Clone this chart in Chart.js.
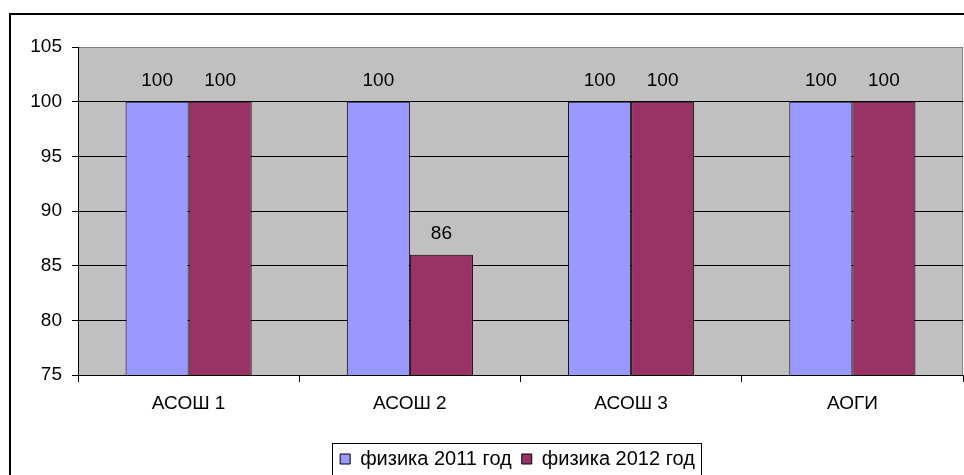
<!DOCTYPE html>
<html>
<head>
<meta charset="utf-8">
<script src="https://cdn.jsdelivr.net/npm/chart.js@4/dist/chart.umd.min.js"></script>
<style>
  html, body { margin: 0; padding: 0; background: #fff; }
  #wrap { width: 964px; height: 475px; position: relative; }
</style>
</head>
<body>
<div id="wrap"><canvas id="myChart" width="964" height="475"></canvas></div>
<script>
// data
var schools = ['АСОШ 1', 'АСОШ 2', 'АСОШ 3', 'АОГИ']
var fizika2011 = [100, 100, 100, 100]
var fizika2012 = [100, 86, 100, 100]
var seriesNames = ['физика 2011 год', 'физика 2012 год']
var yMin = 75
var yMax = 105
var yStep = 5

var fontSize = 19
Chart.defaults.font.family = '"Liberation Sans", Arial, sans-serif'
Chart.defaults.font.size = fontSize
Chart.defaults.color = '#000'

// the original chart is wider than the picture, so the legend sits right of centre
var legendLeft = 72

const legendShift = {
    id: 'legendShift',
    afterLayout(chart) {
        const lg = chart.legend
        if (!lg) return
        lg.left = legendLeft
        lg.width = lg.right - lg.left
    }
}

// frame round the whole chart + grey plot area
const framePlugin = {
    id: 'frame',
    beforeDraw(chart) {
        const c = chart.ctx
        const a = chart.chartArea
        c.save()
        c.fillStyle = '#fff'
        c.fillRect(0, 0, chart.width, chart.height)
        c.strokeStyle = '#000'
        c.lineWidth = 2
        c.strokeRect(10, 14, chart.width + 20, chart.height + 20)
        c.fillStyle = '#C0C0C0'
        c.fillRect(a.left, a.top, a.right - a.left, a.bottom - a.top)
        c.strokeStyle = '#808080'
        c.lineWidth = 1
        c.strokeRect(a.left + 0.5, a.top + 0.5, a.right - a.left - 1, a.bottom - a.top)
        c.restore()
    },
    afterDraw(chart) {
        // border round the legend
        const lg = chart.legend
        if (!lg || !lg.legendHitBoxes || !lg.legendHitBoxes.length) return
        const hb = lg.legendHitBoxes
        const l = hb[0].left - 8
        const r = hb[hb.length - 1].left + hb[hb.length - 1].width + 6
        const c = chart.ctx
        c.save()
        c.strokeStyle = '#000'
        c.lineWidth = 1
        c.strokeRect(Math.round(l) + 0.5, 443.5, Math.round(r - l), 60)
        c.restore()
    }
}

// values above the bars
const valuePlugin = {
    id: 'values',
    afterDatasetsDraw(chart) {
        const c = chart.ctx
        c.save()
        c.fillStyle = '#000'
        c.font = fontSize + 'px "Liberation Sans", Arial, sans-serif'
        c.textAlign = 'center'
        c.textBaseline = 'alphabetic'
        chart.data.datasets.forEach((ds, i) => {
            chart.getDatasetMeta(i).data.forEach((bar, j) => {
                c.fillText(ds.data[j], bar.x, bar.y - 16)
            })
        })
        c.restore()
    }
}

const ctx = document.getElementById('myChart').getContext('2d')
const myChart = new Chart(ctx, {
    type: 'bar',
    data: {
        labels: schools,
        datasets: [{
            label: seriesNames[0],
            data: fizika2011,
            backgroundColor: '#9999FF',
            borderColor: '#000',
            borderWidth: 1,
            borderSkipped: false
        }, {
            label: seriesNames[1],
            data: fizika2012,
            backgroundColor: '#993366',
            borderColor: '#000',
            borderWidth: 1,
            borderSkipped: false
        }]
    },
    options: {
        responsive: false,
        animation: false,
        events: [],
        layout: { padding: { left: 0, right: 1, top: 47, bottom: -4 } },
        datasets: {
            bar: { barPercentage: 1, categoryPercentage: 0.57 }
        },
        scales: {
            x: {
                offset: true,
                grid: {
                    offset: true,
                    drawOnChartArea: false,
                    drawTicks: true,
                    tickLength: 7,
                    color: '#000'
                },
                border: { color: '#000', width: 1 },
                ticks: { padding: 10, maxRotation: 0 },
                afterFit(scale) { scale.height = 64 }
            },
            y: {
                min: yMin,
                max: yMax,
                ticks: { stepSize: yStep, padding: 10 },
                grid: {
                    color: (g) => (g.tick && g.tick.value === yMax) ? '#808080' : '#000',
                    tickColor: '#000',
                    tickLength: 6
                },
                border: { color: '#000', width: 1 },
                afterFit(scale) { scale.width = 78 }
            }
        },
        plugins: {
            legend: {
                position: 'bottom',
                labels: {
                    boxWidth: 10,
                    boxHeight: 10,
                    padding: 10,
                    color: '#000',
                    font: { size: 20 }
                }
            },
            tooltip: { enabled: false }
        }
    },
    plugins: [legendShift, framePlugin, valuePlugin]
})
</script>
</body>
</html>
